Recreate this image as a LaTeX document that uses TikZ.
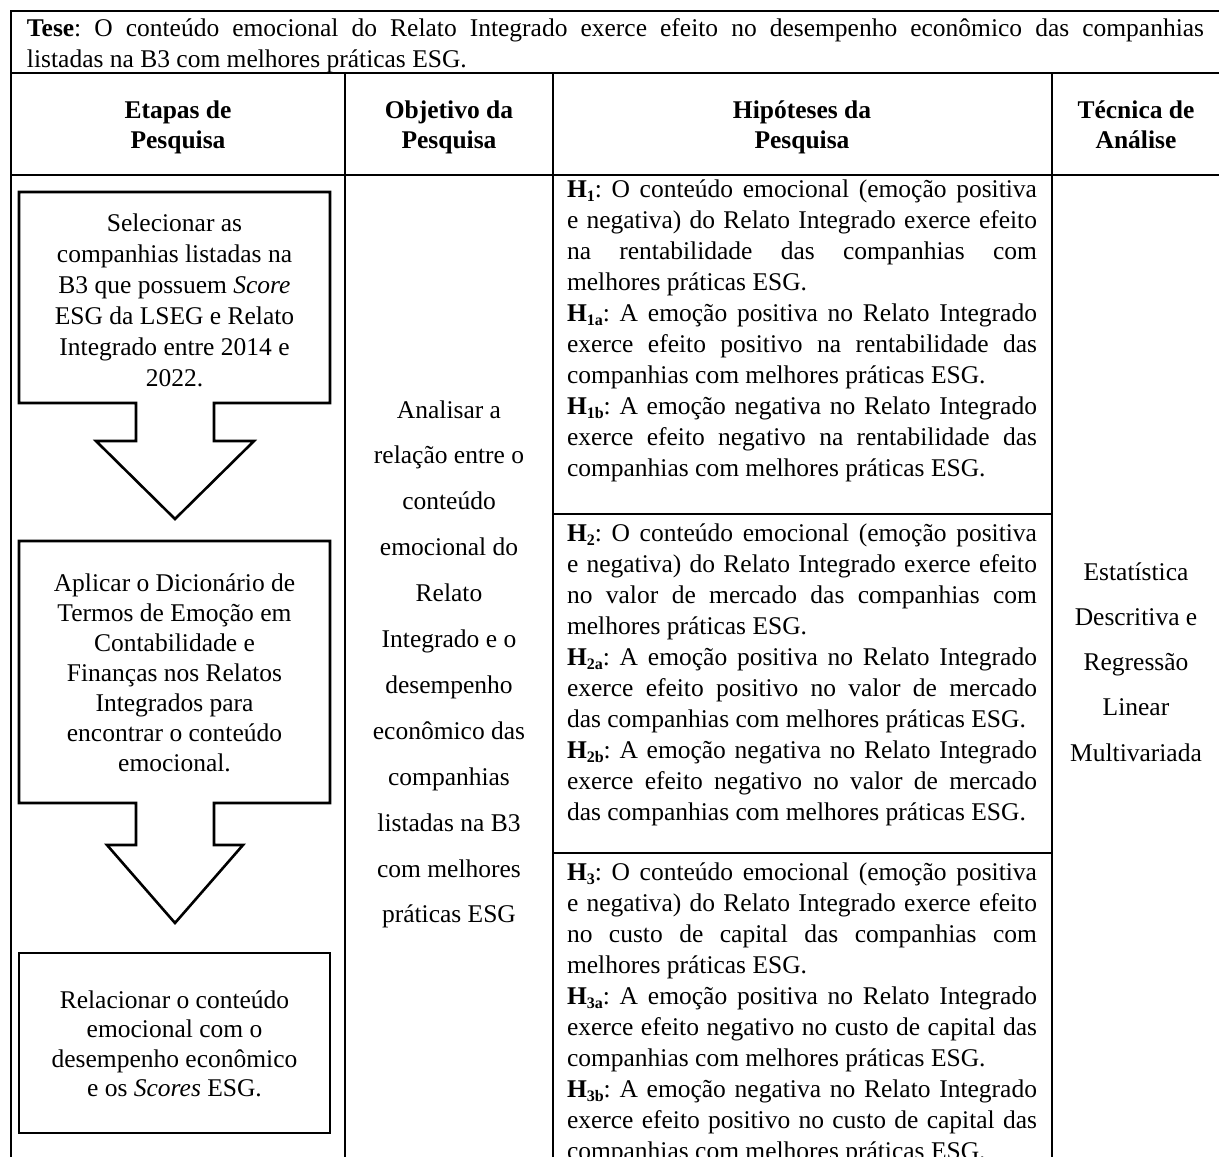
\documentclass[tikz,border=0pt]{standalone}
\usepackage{fontspec}
\setmainfont{Liberation Serif}
\frenchspacing
\newdimen\lw
\newcommand\CL[1]{\hbox to \lw{\hfil#1\hfil}}
\newcommand\JL[1]{\hbox to \lw{#1}}
\newcommand\RL[1]{\hbox to \lw{#1\hfil}}
\newcommand\Blk[3]{\vtop{\lw=#1\relax\baselineskip=#2\relax\lineskiplimit=-1000pt\lineskip=0pt #3}}
\newcommand\Hs[1]{\textbf{H\raisebox{-4pt}{\fontsize{16}{16}\selectfont #1}}}
\tikzset{
  tbl/.style={line width=1.8pt, line cap=rect},
  stepbox/.style={line width=2.6pt, line join=miter},
  txt/.style={inner sep=0pt, outer sep=0pt, font=\fontsize{25.5}{31}\selectfont\frenchspacing},
  hdr/.style={inner sep=0pt, outer sep=0pt, font=\fontsize{25.5}{31}\selectfont\bfseries}
}
\begin{document}
\begin{tikzpicture}[x=1pt,y=-1pt]
\useasboundingbox (0,0) rectangle (1219,1157);
\fill[white] (0,0) rectangle (1219,1157);
\clip (0,0) rectangle (1219,1157);

% table grid
\draw[tbl] (11,11) -- (1222,11);
\draw[tbl] (11,11) -- (11,1170);
\draw[tbl] (11,73) -- (1222,73);
\draw[tbl] (11,175) -- (1222,175);
\draw[tbl] (345,73) -- (345,1170);
\draw[tbl] (553,73) -- (553,1170);
\draw[tbl] (1052,73) -- (1052,1170);
\draw[tbl] (553,514) -- (1052,514);
\draw[tbl] (553,853) -- (1052,853);

% Tese
\node[txt, anchor=base west] (tese) at (27,36) {\Blk{1177pt}{31pt}{%
  \JL{\textbf{Tese}: O conteúdo emocional do Relato Integrado exerce efeito no desempenho econômico das companhias}
  \RL{listadas na B3 com melhores práticas ESG.}}};

% headers
\node[hdr, anchor=base] (hetapas) at (178,118) {\Blk{300pt}{30pt}{\CL{Etapas de}\CL{Pesquisa}}};
\node[hdr, anchor=base] (hobj) at (449,118) {\Blk{200pt}{30pt}{\CL{Objetivo da}\CL{Pesquisa}}};
\node[hdr, anchor=base] (hhip) at (802,118) {\Blk{300pt}{30pt}{\CL{Hipóteses da}\CL{Pesquisa}}};
\node[hdr, anchor=base] (htec) at (1136,118) {\Blk{160pt}{30pt}{\CL{Técnica de}\CL{Análise}}};

% step boxes
\draw[stepbox] (19,192) -- (330,192) -- (330,403) -- (214,403) -- (214,441) -- (254,441)
  -- (175,519) -- (96,441) -- (136,441) -- (136,403) -- (19,403) -- cycle;
\draw[stepbox] (19,541) -- (330,541) -- (330,803) -- (214,803) -- (214,845) -- (243,845)
  -- (175,923) -- (107,845) -- (136,845) -- (136,803) -- (19,803) -- cycle;
\draw[stepbox] (19,953) rectangle (330,1133);

\node[txt, anchor=base] (step1) at (174.5,231) {\Blk{300pt}{31pt}{%
  \CL{Selecionar as}\CL{companhias listadas na}\CL{B3 que possuem \textit{Score}}%
  \CL{ESG da LSEG e Relato}\CL{Integrado entre 2014 e}\CL{2022.}}};
\node[txt, anchor=base] (step2) at (174.5,591) {\Blk{300pt}{30pt}{%
  \CL{Aplicar o Dicionário de}\CL{Termos de Emoção em}\CL{Contabilidade e}%
  \CL{Finanças nos Relatos}\CL{Integrados para}\CL{encontrar o conteúdo}\CL{emocional.}}};
\node[txt, anchor=base] (step3) at (174.5,1008) {\Blk{300pt}{29.5pt}{%
  \CL{Relacionar o conteúdo}\CL{emocional com o}\CL{desempenho econômico}%
  \CL{e os \textit{Scores} ESG.}}};

% objective
\node[txt, anchor=base] (obj) at (449,418) {\Blk{200pt}{45.9pt}{%
  \CL{Analisar a}\CL{relação entre o}\CL{conteúdo}\CL{emocional do}\CL{Relato}%
  \CL{Integrado e o}\CL{desempenho}\CL{econômico das}\CL{companhias}%
  \CL{listadas na B3}\CL{com melhores}\CL{práticas ESG}}};

% technique
\node[txt, anchor=base] (tec) at (1136,580) {\Blk{160pt}{45.3pt}{%
  \CL{Estatística}\CL{Descritiva e}\CL{Regressão}\CL{Linear}\CL{Multivariada}}};

% hypotheses
\node[txt, anchor=base west] (hip1) at (567,197) {\Blk{470pt}{31pt}{%
  \JL{\Hs{1}: O conteúdo emocional (emoção positiva}
  \JL{e negativa) do Relato Integrado exerce efeito}
  \JL{na rentabilidade das companhias com}
  \RL{melhores práticas ESG.}
  \JL{\Hs{1a}: A emoção positiva no Relato Integrado}
  \JL{exerce efeito positivo na rentabilidade das}
  \RL{companhias com melhores práticas ESG.}
  \JL{\Hs{1b}: A emoção negativa no Relato Integrado}
  \JL{exerce efeito negativo na rentabilidade das}
  \RL{companhias com melhores práticas ESG.}}};
\node[txt, anchor=base west] (hip2) at (567,541) {\Blk{470pt}{31pt}{%
  \JL{\Hs{2}: O conteúdo emocional (emoção positiva}
  \JL{e negativa) do Relato Integrado exerce efeito}
  \JL{no valor de mercado das companhias com}
  \RL{melhores práticas ESG.}
  \JL{\Hs{2a}: A emoção positiva no Relato Integrado}
  \JL{exerce efeito positivo no valor de mercado}
  \RL{das companhias com melhores práticas ESG.}
  \JL{\Hs{2b}: A emoção negativa no Relato Integrado}
  \JL{exerce efeito negativo no valor de mercado}
  \RL{das companhias com melhores práticas ESG.}}};
\node[txt, anchor=base west] (hip3) at (567,880) {\Blk{470pt}{31pt}{%
  \JL{\Hs{3}: O conteúdo emocional (emoção positiva}
  \JL{e negativa) do Relato Integrado exerce efeito}
  \JL{no custo de capital das companhias com}
  \RL{melhores práticas ESG.}
  \JL{\Hs{3a}: A emoção positiva no Relato Integrado}
  \JL{exerce efeito negativo no custo de capital das}
  \RL{companhias com melhores práticas ESG.}
  \JL{\Hs{3b}: A emoção negativa no Relato Integrado}
  \JL{exerce efeito positivo no custo de capital das}
  \RL{companhias com melhores práticas ESG.}}};
\end{tikzpicture}
\end{document}
